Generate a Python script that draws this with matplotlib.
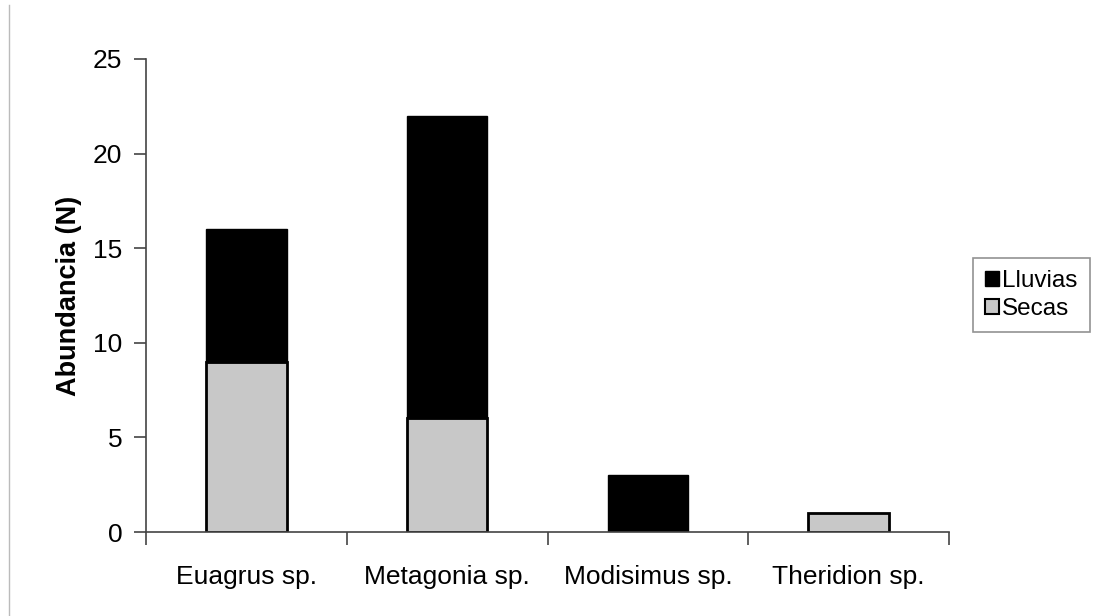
import numpy as np
import matplotlib.pyplot as plt
import matplotlib
from matplotlib.lines import Line2D

matplotlib.rcParams['font.family'] = ['Liberation Sans', 'DejaVu Sans']

especies = ['Euagrus sp.', 'Metagonia sp.', 'Modisimus sp.', 'Theridion sp.']
secas = [9, 6, 0, 1]
lluvias = [7, 16, 3, 0]

fig = plt.figure(figsize=(10.99, 6.16), dpi=100)
ax = fig.add_axes([146/1099, 84/616, 803/1099, 473/616])

x = np.arange(len(especies)) + 0.5
w = 0.4
sec = np.array(secas)
llu = np.array(lluvias)
m = sec > 0
ax.bar(x[m], sec[m], width=w, color='#c8c8c8', edgecolor='black', linewidth=2, label='Secas')
m2 = llu > 0
ax.bar(x[m2], llu[m2], bottom=sec[m2], width=w, color='black', edgecolor='black', linewidth=1, label='Lluvias')

ax.set_xlim(0, 4)
ax.set_ylim(0, 25)
ax.set_yticks([0, 5, 10, 15, 20, 25])
ax.set_xticks([0, 1, 2, 3, 4])
ax.set_xticklabels([])
ax.set_xticks(x, minor=True)
ax.set_xticklabels(especies, minor=True)
ax.tick_params(axis='x', which='minor', length=0, pad=24, labelsize=19)
ax.tick_params(axis='x', which='major', length=9, width=1.2, color='#444444')
ax.tick_params(axis='y', length=9, width=1.2, color='#444444', labelsize=19, pad=8)

for s in ['top', 'right']:
    ax.spines[s].set_visible(False)
for s in ['left', 'bottom']:
    ax.spines[s].set_color('#444444')
    ax.spines[s].set_linewidth(1.2)

ax.set_ylabel('Abundancia (N)', fontsize=19.5, fontweight='bold', labelpad=8)

handles = [plt.Rectangle((0, 0), 1, 1, facecolor='black', edgecolor='black'),
           plt.Rectangle((0, 0), 1, 1, facecolor='#c8c8c8', edgecolor='black', linewidth=1.5)]
leg = fig.legend(handles, ['Lluvias', 'Secas'], loc='upper left',
                 bbox_to_anchor=(973/1099, 1 - 258/616), fontsize=17.5,
                 frameon=True, fancybox=False, handlelength=0.55, handleheight=0.55,
                 handletextpad=0.15, borderpad=0.5, labelspacing=0.25, borderaxespad=0)
leg.get_frame().set_edgecolor('#777777')
leg.get_frame().set_linewidth(1.2)

fig.add_artist(Line2D([9/1099, 9/1099], [0, 1 - 5/616], color='#bbbbbb', linewidth=1))

fig.savefig('out.png', dpi=100)
